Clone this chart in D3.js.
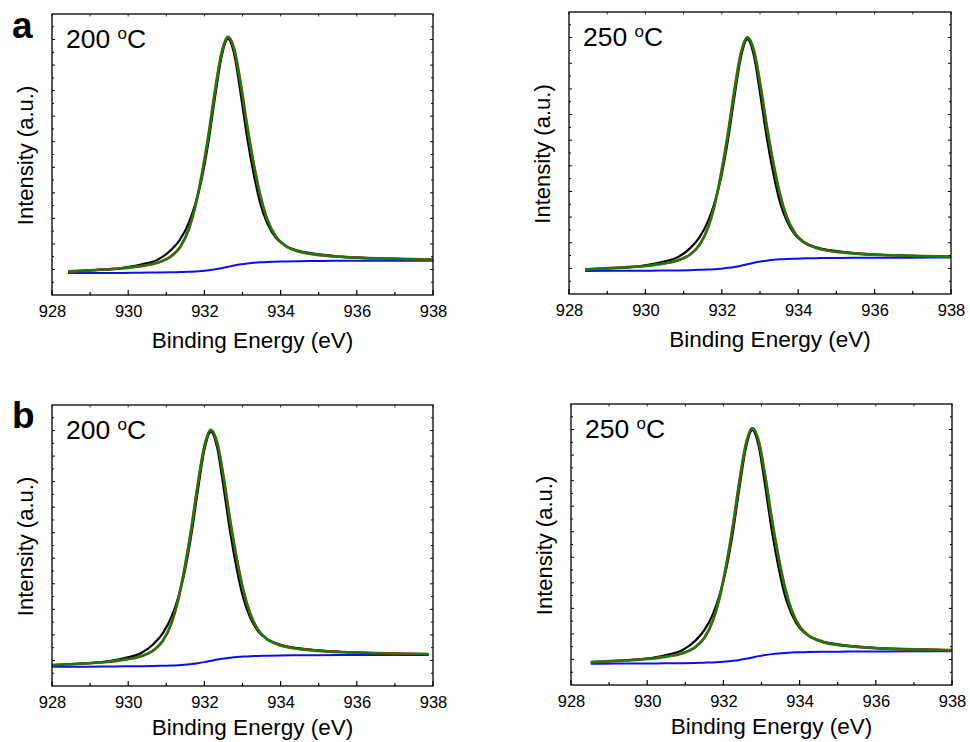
<!DOCTYPE html>
<html>
<head>
<meta charset="utf-8">
<script src="https://cdn.jsdelivr.net/npm/d3@7"></script>
<style>
  body { margin: 0; background: #fff; }
  svg { display: block; font-family: Arial, "Liberation Sans", sans-serif; }
</style>
</head>
<body>
<div id="chart"></div>
<script>
// Binding energy axis (eV)
const xTicks = [928, 929, 930, 931, 932, 933, 934, 935, 936, 937, 938];
const xLabels = [928, 930, 932, 934, 936, 938];

// a, 200 oC
const energyA200 = [928.42, 929.12, 929.82, 930.33, 930.79, 931.13, 931.36, 931.59, 931.76, 931.93, 932.11, 932.28, 932.45, 932.62, 932.79, 932.96, 933.13, 933.31, 933.48, 933.65, 933.88, 934.11, 934.45, 934.91, 935.42, 936.12, 936.92, 938.0];
const dataA200 = [1.84, 1.95, 2.11, 2.38, 2.79, 3.54, 4.34, 5.65, 7.11, 9.09, 12.06, 15.51, 18.65, 20.05, 18.76, 15.60, 12.19, 9.23, 7.02, 5.62, 4.46, 3.89, 3.48, 3.22, 3.05, 2.92, 2.84, 2.75];
const fitA200 = [1.84, 1.95, 2.08, 2.26, 2.54, 3.04, 3.74, 5.15, 6.91, 9.39, 12.56, 16.01, 18.95, 20.2, 19.16, 16.40, 13.09, 10.03, 7.62, 5.92, 4.56, 3.89, 3.43, 3.17, 3.02, 2.91, 2.84, 2.77];
const bgA200 = [1.72, 1.725, 1.732, 1.749, 1.759, 1.778, 1.798, 1.817, 1.846, 1.885, 1.943, 2.011, 2.098, 2.205, 2.312, 2.399, 2.467, 2.525, 2.564, 2.593, 2.612, 2.632, 2.651, 2.661, 2.672, 2.678, 2.686, 2.69];

// a, 250 oC
const energyA250 = [928.42, 929.17, 929.87, 930.38, 930.84, 931.18, 931.41, 931.64, 931.81, 931.98, 932.16, 932.33, 932.50, 932.67, 932.84, 933.01, 933.18, 933.36, 933.53, 933.70, 933.93, 934.16, 934.50, 934.96, 935.47, 936.17, 936.97, 938.0];
const dataA250 = [1.92, 2.03, 2.18, 2.45, 2.86, 3.60, 4.40, 5.68, 7.11, 9.06, 11.98, 15.38, 18.47, 19.87, 18.60, 15.50, 12.14, 9.24, 7.08, 5.71, 4.57, 4.02, 3.62, 3.36, 3.19, 3.06, 2.98, 2.89];
const fitA250 = [1.92, 2.03, 2.15, 2.33, 2.61, 3.10, 3.80, 5.18, 6.91, 9.36, 12.48, 15.88, 18.77, 20.02, 19.00, 16.30, 13.04, 10.04, 7.68, 6.01, 4.67, 4.02, 3.57, 3.31, 3.16, 3.05, 2.98, 2.91];
const bgA250 = [1.80, 1.805, 1.812, 1.831, 1.842, 1.862, 1.883, 1.904, 1.935, 1.977, 2.039, 2.112, 2.206, 2.32, 2.434, 2.528, 2.601, 2.663, 2.705, 2.736, 2.757, 2.778, 2.798, 2.809, 2.821, 2.828, 2.836, 2.84];

// b, 200 oC
const energyB200 = [928.0, 928.67, 929.37, 929.88, 930.34, 930.68, 930.91, 931.14, 931.31, 931.48, 931.66, 931.83, 932.00, 932.17, 932.34, 932.51, 932.68, 932.86, 933.03, 933.20, 933.43, 933.66, 934.00, 934.46, 934.97, 935.67, 936.47, 937.88];
const dataB200 = [1.63, 1.74, 1.90, 2.17, 2.58, 3.33, 4.14, 5.45, 6.91, 8.91, 11.89, 15.35, 18.49, 19.90, 18.59, 15.42, 11.99, 9.01, 6.79, 5.38, 4.21, 3.64, 3.23, 2.96, 2.79, 2.66, 2.56, 2.43];
const fitB200 = [1.63, 1.74, 1.87, 2.05, 2.33, 2.83, 3.54, 4.95, 6.71, 9.21, 12.39, 15.85, 18.79, 20.05, 18.99, 16.22, 12.89, 9.81, 7.39, 5.68, 4.31, 3.64, 3.18, 2.91, 2.76, 2.65, 2.58, 2.50];
const bgB200 = [1.51, 1.515, 1.521, 1.538, 1.547, 1.565, 1.584, 1.602, 1.630, 1.666, 1.722, 1.786, 1.869, 1.97, 2.071, 2.154, 2.218, 2.274, 2.310, 2.338, 2.356, 2.375, 2.393, 2.402, 2.413, 2.419, 2.426, 2.43];

// b, 250 oC
const energyB250 = [928.52, 929.26, 929.96, 930.47, 930.93, 931.27, 931.50, 931.73, 931.90, 932.07, 932.25, 932.42, 932.59, 932.76, 932.93, 933.10, 933.27, 933.45, 933.62, 933.79, 934.02, 934.25, 934.59, 935.05, 935.56, 936.26, 937.06, 938.0];
const dataB250 = [1.79, 1.90, 2.06, 2.33, 2.74, 3.49, 4.29, 5.59, 7.04, 9.02, 11.98, 15.43, 18.55, 19.96, 18.66, 15.51, 12.11, 9.16, 6.96, 5.56, 4.40, 3.84, 3.43, 3.17, 3.00, 2.86, 2.79, 2.70];
const fitB250 = [1.79, 1.90, 2.03, 2.21, 2.49, 2.99, 3.69, 5.09, 6.84, 9.32, 12.48, 15.93, 18.85, 20.11, 19.06, 16.31, 13.01, 9.96, 7.56, 5.86, 4.50, 3.84, 3.38, 3.12, 2.97, 2.85, 2.79, 2.72];
const bgB250 = [1.67, 1.675, 1.682, 1.699, 1.709, 1.728, 1.748, 1.767, 1.796, 1.835, 1.893, 1.961, 2.048, 2.155, 2.262, 2.349, 2.417, 2.475, 2.514, 2.543, 2.562, 2.582, 2.601, 2.611, 2.622, 2.628, 2.636, 2.64];

const width = 970;
const height = 742;

const svg = d3.create("svg")
  .attr("width", width)
  .attr("height", height)
  .attr("viewBox", [0, 0, width, height]);

d3.select("#chart").append(() => svg.node());

// panel layout (pixel boxes)
const panels = [
  { temp: "200", x: energyA200, data: dataA200, fit: fitA200, bg: bgA200, box: [52, 14, 433, 295], titleGap: 53, letter: "a" },
  { temp: "250", x: energyA250, data: dataA250, fit: fitA250, bg: bgA250, box: [569, 12, 951, 294], titleGap: 53 },
  { temp: "200", x: energyB200, data: dataB200, fit: fitB200, bg: bgB200, box: [52, 405, 433, 686], titleGap: 49, letter: "b" },
  { temp: "250", x: energyB250, data: dataB250, fit: fitB250, bg: bgB250, box: [571, 404, 952, 685], titleGap: 49 }
];

panels.forEach(p => {
  const [left, top, right, bottom] = p.box;
  const g = svg.append("g");

  const x = d3.scaleLinear().domain([928, 938]).range([left, right]);
  const y = d3.scaleLinear().domain([0, 22]).range([bottom, top]);
  const yTicks = d3.range(1, 22);

  const line = (vals) => d3.line()
    .x((d, i) => x(p.x[i]))
    .y(d => y(d))
    .curve(d3.curveMonotoneX)(vals);

  // curves
  g.append("path").attr("d", line(p.bg))
    .attr("fill", "none").attr("stroke", "#0a10f0").attr("stroke-width", 2);
  g.append("path").attr("d", line(p.data))
    .attr("fill", "none").attr("stroke", "#000").attr("stroke-width", 2.2);
  g.append("path").attr("d", line(p.fit))
    .attr("fill", "none").attr("stroke", "#b0301a").attr("stroke-width", 2.8);
  g.append("path").attr("d", line(p.fit))
    .attr("fill", "none").attr("stroke", "#0b820b").attr("stroke-width", 2.1);

  // bottom axis
  g.append("g")
    .attr("transform", `translate(0,${bottom})`)
    .call(d3.axisBottom(x).tickValues(xLabels).tickFormat(d3.format("d")).tickSize(0).tickPadding(10))
    .call(a => a.select(".domain").remove())
    .call(a => a.selectAll("text").attr("font-size", 16.5).attr("fill", "#000")
      .attr("font-family", "Arial, 'Liberation Sans', sans-serif"));

  // inner ticks
  xTicks.forEach(t => {
    const len = t % 2 === 0 ? 5 : 3;
    g.append("line").attr("x1", x(t)).attr("x2", x(t)).attr("y1", bottom).attr("y2", bottom - len)
      .attr("stroke", "#000").attr("stroke-width", 1.2);
    g.append("line").attr("x1", x(t)).attr("x2", x(t)).attr("y1", top).attr("y2", top + 2.5)
      .attr("stroke", "#333").attr("stroke-width", 1);
  });
  yTicks.forEach(t => {
    const len = t % 2 === 0 ? 3 : 2;
    g.append("line").attr("x1", left).attr("x2", left + len).attr("y1", y(t)).attr("y2", y(t))
      .attr("stroke", "#000").attr("stroke-width", 1);
    g.append("line").attr("x1", right).attr("x2", right - len).attr("y1", y(t)).attr("y2", y(t))
      .attr("stroke", "#000").attr("stroke-width", 1);
  });

  // frame
  g.append("rect")
    .attr("x", left).attr("y", top)
    .attr("width", right - left).attr("height", bottom - top)
    .attr("fill", "none").attr("stroke", "#000").attr("stroke-width", 1.3);

  // axis titles
  g.append("text")
    .attr("x", (left + right) / 2 + 10)
    .attr("y", bottom + p.titleGap)
    .attr("text-anchor", "middle")
    .attr("font-size", 22.5)
    .text("Binding Energy (eV)");

  g.append("text")
    .attr("transform", `translate(${left - 19},${(top + bottom) / 2 + 1}) rotate(-90)`)
    .attr("text-anchor", "middle")
    .attr("font-size", 22)
    .text("Intensity (a.u.)");

  // temperature label
  const lab = g.append("text")
    .attr("x", left + 14)
    .attr("y", top + 34)
    .attr("font-size", 26.5);
  lab.append("tspan").text(p.temp + " ");
  lab.append("tspan").attr("dy", -9).attr("font-size", 17).text("o");
  lab.append("tspan").attr("dy", 9).text("C");

  if (p.letter) {
    svg.append("text")
      .attr("x", 12)
      .attr("y", top + (p.letter === "a" ? 24 : 23))
      .attr("font-size", 37)
      .attr("font-weight", "bold")
      .text(p.letter);
  }
});
</script>
</body>
</html>
